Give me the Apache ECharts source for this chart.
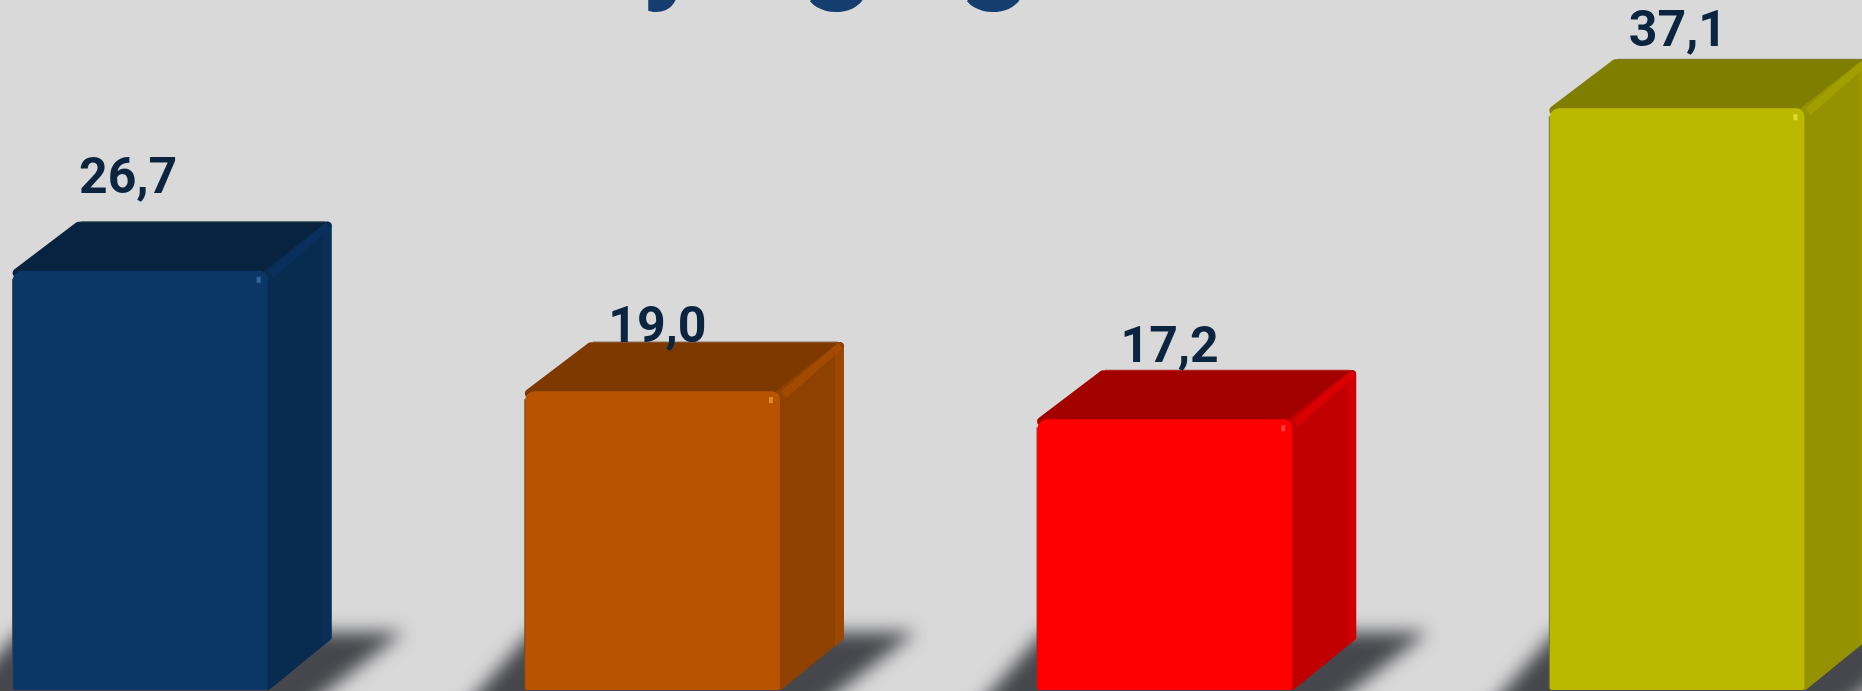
<!DOCTYPE html>
<html>
<head>
<meta charset="utf-8">
<title>Chart</title>
<style>
  html, body { margin: 0; padding: 0; background: #d9d9d9; }
  #chart { width: 1862px; height: 691px; }
</style>
<script src="https://cdn.jsdelivr.net/npm/echarts@6/dist/echarts.min.js"></script>
</head>
<body>
<div id="chart"></div>
<script>
// values
const categories = ['1', '2', '3', '4'];
const values = [26.7, 19.0, 17.2, 37.1];

// the title is cut off by the top edge, only these descenders can be seen
const titleGlyphs = ['y', 'g', 'g'];
const titleGlyphX = [673, 838, 995];

// face colours
const frontColors = ['#0b3766', '#b85400', '#ff0000', '#bbb800'];
const topColors = ['#07233f', '#7e3900', '#a30000', '#807e00'];
const sideColors = ['#082b50', '#8e4100', '#c00000', '#949200'];
const bevelColors = ['#0a3360', '#a84d00', '#e00000', '#a5a200'];
const edgeColors = ['#3d4a58', '#7a4a20', '#b02020', '#77762f'];
const glintColors = ['#3f78ad', '#f09a40', '#ff5050', '#e8e640'];

// labels are not centred on the bars in the picture: [dx from front centre, gap above front top]
const labelNudge = [[-12, 65], [5, 37], [5, 45], [1, 50]];

const DX = 64;
const DY = 49;
const BAR_RATIO = 0.498;
const OFFSCREEN = 4000; // shadow shape is drawn off canvas so only its blur lands on the page

const chart = echarts.init(document.getElementById('chart'));

function barBox(api) {
    const idx = api.value(0);
    const top = api.coord([idx, api.value(1)]);
    const zero = api.coord([idx, 0]);
    const w = api.size([1, 0])[0] * BAR_RATIO;
    return { idx, l: top[0] - w / 2, r: top[0] + w / 2, t: top[1], b: zero[1] + 2, cx: top[0] };
}

// soft shadow lying on the floor behind each bar
function renderShadow(params, api) {
    const { l, r, b } = barBox(api);
    const pts = [[l + 6, b - 58], [r + 136, b - 58], [r + 30, b + 24], [l - 66, b + 24]];
    return {
        type: 'polygon',
        shape: { points: pts.map(p => [p[0] - OFFSCREEN, p[1]]) },
        style: { fill: '#46474c', shadowBlur: 18, shadowColor: '#46474c', shadowOffsetX: OFFSCREEN }
    };
}

function renderBar(params, api) {
    const { idx, l, r, t, b, cx } = barBox(api);
    const children = [
        // top face
        {
            type: 'polygon',
            shape: { points: [[l + 4, t + 2], [l + DX + 2, t - DY + 4], [r + DX - 4, t - DY + 4], [r, t + 2]] },
            style: { fill: topColors[idx], stroke: topColors[idx], lineWidth: 8, lineJoin: 'round' }
        },
        // side face
        {
            type: 'polygon',
            shape: { points: [[r, t + 2], [r + DX - 4, t - DY + 4], [r + DX - 4, b - DY - 4], [r, b - 4]] },
            style: { fill: sideColors[idx], stroke: sideColors[idx], lineWidth: 8, lineJoin: 'round' }
        },
        // bevel on the side's outer edge
        {
            type: 'polygon',
            shape: { points: [[r + DX - 9, t - DY + 6], [r + DX, t - DY + 6], [r + DX, b - DY - 2], [r + DX - 9, b - DY + 5]] },
            style: { fill: bevelColors[idx], opacity: 0.5 }
        },
        // bevel running from front corner to back corner
        {
            type: 'polygon',
            shape: { points: [[r + 1, t], [r + DX - 6, t - DY + 1], [r + DX - 1, t - DY + 6], [r + 6, t + 7]] },
            style: { fill: bevelColors[idx], opacity: 0.75 }
        },
        // thin grey line along the back of the top face
        {
            type: 'line',
            shape: { x1: l + DX + 4, y1: t - DY, x2: r + DX - 6, y2: t - DY },
            style: { stroke: edgeColors[idx], lineWidth: 1 }
        },
        // front face
        {
            type: 'rect',
            shape: { x: l, y: t, width: r - l, height: b - t, r: [10, 8, 3, 3] },
            style: { fill: frontColors[idx] }
        },
        // grey edge only on the left of the front face
        {
            type: 'line',
            shape: { x1: l, y1: t + 8, x2: l, y2: b - 2 },
            style: { stroke: edgeColors[idx], lineWidth: 1 }
        },
        // small glint at the front corner
        {
            type: 'rect',
            shape: { x: r - 11, y: t + 6, width: 4, height: 6 },
            style: { fill: glintColors[idx], opacity: 0.75 }
        },
        // value label
        {
            type: 'text',
            x: cx + labelNudge[idx][0],
            y: t - labelNudge[idx][1],
            style: {
                text: api.value(1).toFixed(1).replace('.', ','),
                fill: '#0b2440',
                font: 'bold 50px Roboto',
                align: 'center',
                verticalAlign: 'bottom'
            }
        }
    ];
    return { type: 'group', children };
}

const seriesData = values.map((v, i) => [i, v]);

chart.setOption({
    animation: false,
    backgroundColor: '#d9d9d9',
    // 0 sits at y=688 and 40 at y=63, bars spaced 512px apart
    grid: { left: -116, top: 63, width: 2049, height: 625, outerBoundsMode: 'none' },
    xAxis: { type: 'category', data: categories, show: false },
    yAxis: { type: 'value', min: 0, max: 40, show: false },
    graphic: titleGlyphs.map((g, i) => ({
        type: 'text',
        x: titleGlyphX[i],
        y: -47,
        silent: true,
        style: {
            text: g,
            fill: '#153e6e',
            font: 'bold 128px Roboto',
            align: 'center',
            verticalAlign: 'middle'
        }
    })),
    series: [
        { type: 'custom', data: seriesData, renderItem: renderShadow, clip: false, z: 1, silent: true },
        { type: 'custom', data: seriesData, renderItem: renderBar, clip: false, z: 2 }
    ]
});

window.addEventListener('resize', () => chart.resize());
</script>
</body>
</html>
